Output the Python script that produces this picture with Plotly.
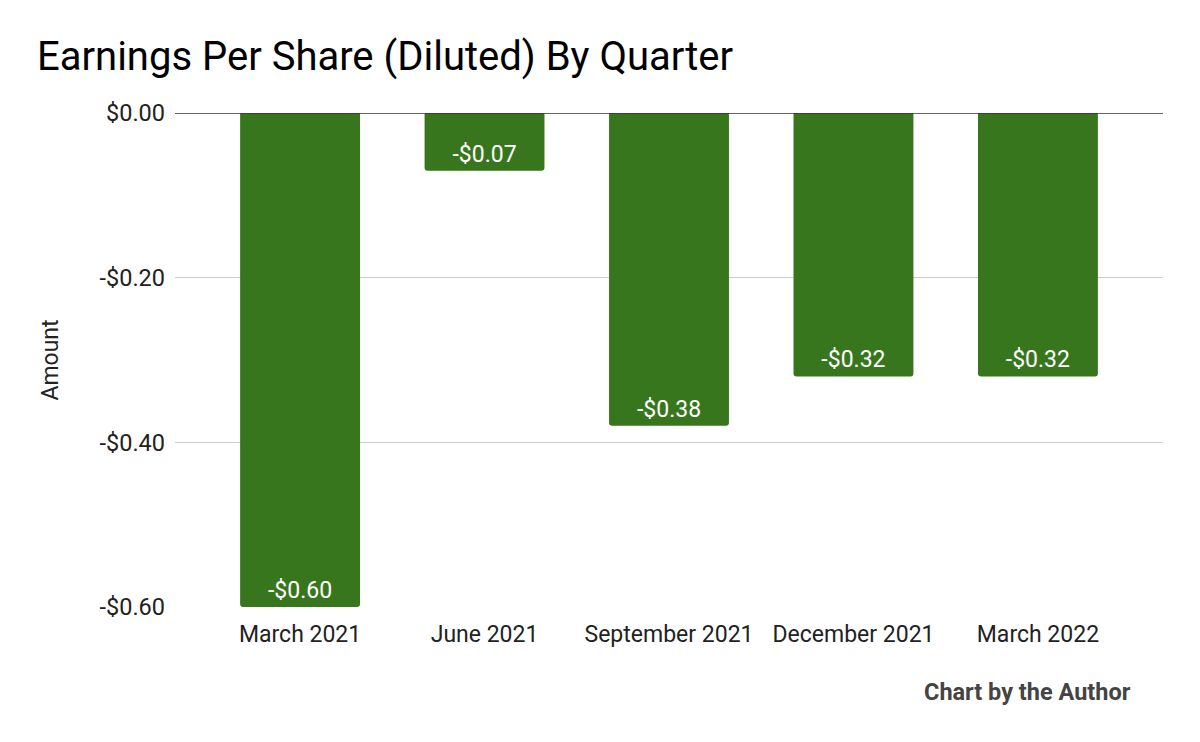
import plotly.graph_objects as go

quarters = ["March 2021", "June 2021", "September 2021", "December 2021", "March 2022"]
eps = [-0.60, -0.07, -0.38, -0.32, -0.32]
eps_labels = ["-$0.60", "-$0.07", "-$0.38", "-$0.32", "-$0.32"]
y_ticks = [0.0, -0.2, -0.4, -0.6]
y_tick_labels = ["$0.00", "-$0.20", "-$0.40", "-$0.60"]

fig = go.Figure()
fig.add_trace(go.Bar(
    x=list(range(len(quarters))),
    y=eps,
    text=eps_labels,
    textposition="inside",
    insidetextanchor="end",
    textangle=0,
    constraintext="none",
    textfont=dict(family="Roboto", size=23, color="white"),
    marker=dict(color="#38761d", line=dict(width=0), cornerradius=3),
    width=0.65,
    hoverinfo="skip",
))

fig.update_layout(
    width=1200, height=742,
    margin=dict(l=175, r=37, t=113, b=135),
    paper_bgcolor="white", plot_bgcolor="white",
    showlegend=False,
    font=dict(family="Roboto", color="#222"),
    title=dict(text="Earnings Per Share (Diluted) By Quarter",
               font=dict(family="Roboto", size=40, color="#000"),
               x=37/1200, xanchor="left", y=1-56/742, yanchor="middle", xref="container", yref="container"),
    xaxis=dict(
        tickmode="array", tickvals=list(range(len(quarters))), ticktext=quarters,
        range=[-0.678, 4.678], showgrid=False, zeroline=False, showline=False,
        tickfont=dict(family="Roboto", size=23, color="#222"), ticks="", ticklen=0,
        ticklabelstandoff=11,
        fixedrange=True,
    ),
    yaxis=dict(
        tickmode="array", tickvals=y_ticks, ticktext=y_tick_labels,
        range=[-0.6, 0.0], showgrid=True, gridcolor="#cccccc", gridwidth=1,
        zeroline=False, showline=False,
        tickfont=dict(family="Roboto", size=23.5, color="#222"), ticks="", ticklen=0,
        ticklabelstandoff=9,
        title=dict(text="Amount", font=dict(family="Roboto", size=23, color="#222"), standoff=34),
        automargin=False,
    ),
    annotations=[dict(text="<b>Chart by the Author</b>", x=(1133-175)/988, y=(607-692)/494,
                      xref="paper", yref="paper", xanchor="right", yanchor="middle",
                      showarrow=False, font=dict(family="Roboto", size=23.5, color="#444"))],
)

# zero baseline
fig.add_shape(type="line", xref="paper", yref="y", x0=0, x1=1, y0=0, y1=0,
              line=dict(color="#333333", width=1.5), layer="above")

fig.write_html("out.html")
